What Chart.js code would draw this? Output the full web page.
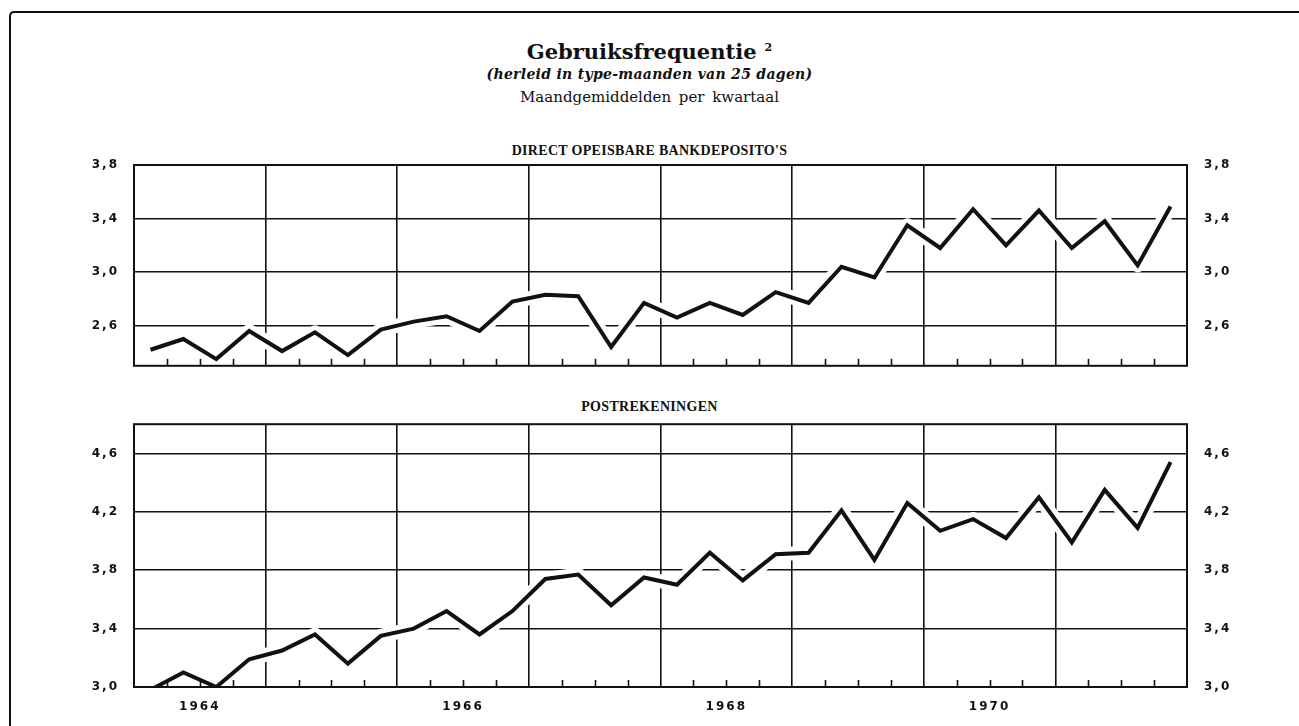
<!DOCTYPE html>
<html>
<head>
<meta charset="utf-8">
<script src="https://cdn.jsdelivr.net/npm/chart.js@4"></script>
<style>
  html, body { margin: 0; padding: 0; background: #fff; }
  body { width: 1299px; height: 726px; position: relative; overflow: hidden; }
  .frame { position: absolute; left: 9px; top: 11px; width: 1300px; height: 730px;
           border-top: 2.5px solid #111; border-left: 2.5px solid #111; border-top-left-radius: 5px; }
  .txt { position: absolute; left: 0; width: 1299px; text-align: center; color: #111; white-space: nowrap; }
  #t1 { top: 39px; font: bold 21px "DejaVu Serif", serif; }
  #t1 sup { font-size: 11px; vertical-align: 8px; margin-left: 8px; }
  #t2 { top: 66px; font: italic bold 14px "DejaVu Serif", serif; letter-spacing: 0.3px; }
  #t3 { top: 88px; font: 15px "DejaVu Serif", serif; word-spacing: 3px; }
  .ptitle { font: bold 14px "Liberation Serif", serif; letter-spacing: 0.3px; }
  #p1 { top: 143px; }
  #p2 { top: 399px; }
  canvas { position: absolute; left: 0; }
</style>
</head>
<body>
<div class="frame"></div>
<div class="txt" id="t1">Gebruiksfrequentie<sup>2</sup></div>
<div class="txt" id="t2">(herleid in type-maanden van 25 dagen)</div>
<div class="txt" id="t3">Maandgemiddelden per kwartaal</div>
<div class="txt ptitle" id="p1">DIRECT OPEISBARE BANKDEPOSITO'S</div>
<div class="txt ptitle" id="p2">POSTREKENINGEN</div>
<canvas id="c1" width="1299" height="250" style="top:140px"></canvas>
<canvas id="c2" width="1299" height="326" style="top:400px"></canvas>
<script>
// ---- data ----
const years = [1964, 1965, 1966, 1967, 1968, 1969, 1970, 1971];
const quarters = ['I', 'II', 'III', 'IV'];
const yearTickLabels = ['1964', '1966', '1968', '1970'];
const bankDeposits = [2.42, 2.50, 2.35, 2.56, 2.41, 2.55, 2.38, 2.57,
                      2.63, 2.67, 2.56, 2.78, 2.83, 2.82, 2.44, 2.77,
                      2.66, 2.77, 2.68, 2.85, 2.77, 3.04, 2.96, 3.35,
                      3.18, 3.47, 3.20, 3.46, 3.18, 3.38, 3.05, 3.49];
const postAccounts = [2.98, 3.10, 3.00, 3.19, 3.25, 3.36, 3.16, 3.35,
                      3.40, 3.52, 3.36, 3.52, 3.74, 3.77, 3.56, 3.75,
                      3.70, 3.92, 3.73, 3.91, 3.92, 4.21, 3.87, 4.26,
                      4.07, 4.15, 4.02, 4.30, 3.99, 4.35, 4.09, 4.54];
const bankTicks = [2.6, 3.0, 3.4, 3.8];
const postTicks = [3.0, 3.4, 3.8, 4.2, 4.6];
const bankRange = [2.3, 3.8];
const postRange = [3.0, 4.8];

const nQ = years.length * quarters.length;
const quarterLabels = [];
years.forEach(y => quarters.forEach(q => quarterLabels.push(y + ' ' + q)));

function toPoints(arr) { return arr.map((v, i) => ({ x: i + 0.5, y: v })); }
function fmt(v) { return Number(v).toFixed(1).replace('.', ','); }

const INK = '#111';

const decoPlugin = {
  id: 'deco',
  beforeDraw(chart) { chart.ctx.letterSpacing = chart.options.plugins.deco.spacing || '0px'; },
  beforeDatasetsDraw(chart) {
    const meta = chart.getDatasetMeta(0);
    const ctx = chart.ctx, a = chart.chartArea;
    ctx.save();
    ctx.beginPath();
    ctx.rect(a.left, a.top, a.right - a.left, a.bottom - a.top);
    ctx.clip();
    ctx.beginPath();
    meta.data.forEach((p, i) => i ? ctx.lineTo(p.x, p.y) : ctx.moveTo(p.x, p.y));
    ctx.strokeStyle = '#fff';
    ctx.lineWidth = 14;
    ctx.lineJoin = 'round';
    ctx.lineCap = 'round';
    ctx.stroke();
    ctx.restore();
  },
  afterDatasetsDraw(chart) {
    const ctx = chart.ctx, a = chart.chartArea, xs = chart.scales.x;
    ctx.save();
    ctx.strokeStyle = INK;
    ctx.lineWidth = 1.6;
    for (let i = 1; i < nQ; i++) {
      if (i % 4 === 0) continue;
      const x = Math.round(xs.getPixelForValue(i)) + 0.5;
      ctx.beginPath();
      ctx.moveTo(x, a.bottom);
      ctx.lineTo(x, a.bottom - 7);
      ctx.stroke();
    }
    ctx.lineWidth = 2;
    ctx.strokeRect(a.left, a.top, a.right - a.left, a.bottom - a.top);
    ctx.restore();
  }
};

function makeChart(id, data, range, tickVals, showYears, padTop, xHeight) {
  const yCommon = {
    type: 'linear',
    min: range[0],
    max: range[1],
    afterBuildTicks: s => { s.ticks = tickVals.map(v => ({ value: v })); },
    border: { display: false }
  };
  return new Chart(document.getElementById(id), {
    type: 'line',
    data: {
      labels: quarterLabels,
      datasets: [{
        data: toPoints(data),
        borderColor: INK,
        borderWidth: 4,
        pointRadius: 0,
        tension: 0,
        borderJoinStyle: 'miter',
        fill: false
      }]
    },
    plugins: [decoPlugin],
    options: {
      responsive: false,
      animation: false,
      layout: { padding: { top: padTop, bottom: 0, left: 0, right: 0 } },
      plugins: {
        legend: { display: false },
        tooltip: { enabled: false },
        deco: { spacing: '2px' }
      },
      scales: {
        x: {
          type: 'linear',
          min: 0,
          max: nQ,
          afterBuildTicks: s => {
            const t = [];
            for (let v = 0; v <= nQ; v += 2) t.push({ value: v });
            s.ticks = t;
          },
          afterFit: s => { s.height = xHeight; },
          border: { display: false },
          grid: {
            drawTicks: false,
            lineWidth: 1.6,
            color: c => (c.tick && c.tick.value % 4 === 0) ? INK : 'rgba(0,0,0,0)'
          },
          ticks: {
            display: showYears,
            autoSkip: false,
            maxRotation: 0,
            padding: 13,
            color: INK,
            font: { family: 'DejaVu Sans', size: 12, weight: 'bold' },
            callback: v => {
              const k = (v - 2) / 8;
              return Number.isInteger(k) && k >= 0 && k < yearTickLabels.length ? yearTickLabels[k] : '';
            }
          }
        },
        y: Object.assign({}, yCommon, {
          position: 'left',
          afterFit: s => { s.width = 134; },
          grid: { drawTicks: false, lineWidth: 1.6, color: INK },
          ticks: {
            padding: 15, color: INK,
            font: { family: 'DejaVu Sans', size: 12, weight: 'bold' },
            callback: v => fmt(v)
          }
        }),
        y2: Object.assign({}, yCommon, {
          position: 'right',
          afterFit: s => { s.width = 1299 - 1187; },
          grid: { display: false, drawTicks: false },
          ticks: {
            padding: 17, color: INK,
            font: { family: 'DejaVu Sans', size: 12, weight: 'bold' },
            callback: v => fmt(v)
          }
        })
      }
    }
  });
}

makeChart('c1', bankDeposits, bankRange, bankTicks, false, 25, 3);
makeChart('c2', postAccounts, postRange, postTicks, true, 23, 39);
</script>
</body>
</html>
